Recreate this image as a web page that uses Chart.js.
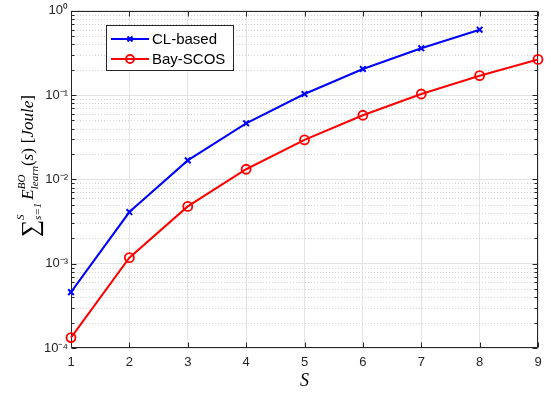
<!DOCTYPE html>
<html>
<head>
<meta charset="UTF-8">
<title>Cumulative learning energy</title>
<script src="https://cdn.jsdelivr.net/npm/chart.js@4.4.0/dist/chart.umd.min.js"></script>
<style>
  html, body { margin: 0; padding: 0; background: #fff; }
</style>
</head>
<body>
<canvas id="chart" width="551" height="395"></canvas>
<script>
// data
var sValues = [1, 2, 3, 4, 5, 6, 7, 8, 9];
var clBased = [4.6e-4, 4.1e-3, 0.0168, 0.0463, 0.103, 0.204, 0.359, 0.597];
var baySCOS = [1.33e-4, 1.18e-3, 4.78e-3, 0.0132, 0.0294, 0.0577, 0.103, 0.170, 0.265];
var seriesNames = ['CL-based', 'Bay-SCOS'];
var yExps = [-4, -3, -2, -1, 0];

var supDigits = {'-': '\u207B', '0': '\u2070', '1': '\u00B9', '2': '\u00B2', '3': '\u00B3', '4': '\u2074'};
var axisColor = '#262626';
var sansFont = 'Liberation Sans, Arial, sans-serif';
var serifFont = 'Liberation Serif, "DejaVu Serif", serif';

var minorValues = [];
for (var k = 0; k < yExps.length - 1; k++) {
  for (var m = 2; m <= 9; m++) minorValues.push(m * Math.pow(10, yExps[k]));
}

function toPoints(ys) {
  return ys.map(function (v, i) { return {x: sValues[i], y: v}; });
}

function drawYLabel(c, cx, cy) {
  var items = [
    {t: '\u2211', s: 24, i: false, dy: 5},
    {sup: 'S', sub: 's=1', s: 11, supDy: -9, subDy: 8},
    {gap: 3},
    {t: 'E', s: 17, i: true, dy: 0},
    {sup: 'BO', sub: 'learn', s: 11, supDy: -8, subDy: 5},
    {t: '(', s: 17, i: false}, {t: 's', s: 17, i: true}, {t: ')', s: 17, i: false},
    {gap: 5},
    {t: '[', s: 17, i: false}, {t: 'Joule', s: 17, i: true}, {t: ']', s: 17, i: false}
  ];
  function font(s, it) { return (it ? 'italic ' : '') + s + 'px ' + serifFont; }
  function w(t, s, it) { c.font = font(s, it); return c.measureText(t).width; }
  var total = 0;
  items.forEach(function (p) {
    if (p.gap) total += p.gap;
    else if (p.sup) total += Math.max(w(p.sup, p.s, true), w(p.sub, p.s, true));
    else total += w(p.t, p.s, p.i);
  });
  c.save();
  c.translate(cx, cy);
  c.rotate(-Math.PI / 2);
  c.fillStyle = '#000';
  c.textBaseline = 'alphabetic';
  c.textAlign = 'left';
  var x = -total / 2, base = 6;
  items.forEach(function (p) {
    if (p.gap) { x += p.gap; return; }
    if (p.sup) {
      c.font = font(p.s, true);
      c.fillText(p.sup, x, base + p.supDy);
      c.fillText(p.sub, x, base + p.subDy);
      x += Math.max(c.measureText(p.sup).width, c.measureText(p.sub).width);
      return;
    }
    c.font = font(p.s, p.i);
    c.fillText(p.t, x, base + (p.dy || 0));
    x += c.measureText(p.t).width;
  });
  c.restore();
}

var matlabFrame = {
  id: 'matlabFrame',
  beforeDatasetsDraw: function (chart) {
    var c = chart.ctx, a = chart.chartArea, xs = chart.scales.x, ys = chart.scales.y;
    c.save();
    // minor dotted grid
    c.strokeStyle = '#d2d2d2';
    c.lineWidth = 1;
    c.setLineDash([1, 2]);
    minorValues.forEach(function (v) {
      var y = Math.round(ys.getPixelForValue(v)) + 0.5;
      c.beginPath(); c.moveTo(a.left, y); c.lineTo(a.right, y); c.stroke();
    });
    c.setLineDash([]);
    // box and inward ticks
    c.strokeStyle = axisColor;
    var L = Math.round(a.left) + 0.5, R = Math.round(a.right) - 0.5;
    var T = Math.round(a.top) + 0.5, B = Math.round(a.bottom) - 0.5;
    c.beginPath();
    c.rect(L, T, R - L, B - T);
    sValues.forEach(function (s) {
      var x = Math.round(xs.getPixelForValue(s)) + 0.5;
      c.moveTo(x, B); c.lineTo(x, B - 5);
      c.moveTo(x, T); c.lineTo(x, T + 5);
    });
    yExps.forEach(function (e) {
      var y = Math.round(ys.getPixelForValue(Math.pow(10, e))) + 0.5;
      c.moveTo(L, y); c.lineTo(L + 5, y);
      c.moveTo(R, y); c.lineTo(R - 5, y);
    });
    minorValues.forEach(function (v) {
      var y = Math.round(ys.getPixelForValue(v)) + 0.5;
      c.moveTo(L, y); c.lineTo(L + 3, y);
      c.moveTo(R, y); c.lineTo(R - 3, y);
    });
    c.stroke();
    c.restore();
  },
  afterDraw: function (chart) {
    var c = chart.ctx;
    // legend box
    c.save();
    c.fillStyle = '#fff';
    c.fillRect(106.5, 25.5, 127, 45);
    c.strokeStyle = axisColor;
    c.lineWidth = 1;
    c.strokeRect(106.5, 25.5, 127, 45);
    var rows = [39, 59];
    chart.data.datasets.forEach(function (ds, i) {
      var y = rows[i];
      c.strokeStyle = ds.borderColor;
      c.lineWidth = 2;
      c.beginPath(); c.moveTo(111, y); c.lineTo(149, y); c.stroke();
      if (ds.pointStyle === 'crossRot') {
        c.beginPath();
        c.moveTo(127.5, y - 2.5); c.lineTo(132.5, y + 2.5);
        c.moveTo(132.5, y - 2.5); c.lineTo(127.5, y + 2.5);
        c.stroke();
      } else {
        c.lineWidth = 1.8;
        c.beginPath(); c.arc(130, y, 4, 0, Math.PI * 2); c.stroke();
      }
      c.fillStyle = '#000';
      c.font = '15px ' + sansFont;
      c.textBaseline = 'middle';
      c.fillText(ds.label, 152, y + 1);
    });
    c.restore();
    drawYLabel(c, 27, 166);
  }
};

var myChart = new Chart(document.getElementById('chart'), {
  type: 'line',
  data: {
    datasets: [
      {
        label: seriesNames[0],
        data: toPoints(clBased),
        borderColor: '#0000ff',
        backgroundColor: '#0000ff',
        borderWidth: 2,
        pointStyle: 'crossRot',
        pointRadius: 4,
        pointBorderWidth: 2,
        pointBorderColor: '#0000ff',
        tension: 0,
        clip: false
      },
      {
        label: seriesNames[1],
        data: toPoints(baySCOS),
        borderColor: '#ff0000',
        backgroundColor: 'rgba(0,0,0,0)',
        borderWidth: 2,
        pointStyle: 'circle',
        pointRadius: 4.5,
        pointBorderWidth: 1.8,
        pointBorderColor: '#ff0000',
        pointBackgroundColor: 'rgba(0,0,0,0)',
        tension: 0,
        clip: false
      }
    ]
  },
  options: {
    responsive: false,
    animation: false,
    layout: {padding: {top: 10, right: 13, left: 0, bottom: 0}},
    plugins: {legend: {display: false}, tooltip: {enabled: false}},
    scales: {
      x: {
        type: 'linear', min: 1, max: 9,
        ticks: {stepSize: 1, color: axisColor, font: {family: sansFont, size: 13}, padding: 7, maxRotation: 0},
        grid: {color: '#e3e3e3', drawTicks: false},
        border: {display: false},
        title: {
          display: true, text: 'S', color: '#000',
          font: {family: serifFont, size: 18, style: 'italic'},
          padding: {top: 0, bottom: 3}
        },
        afterFit: function (s) { s.height = 47; }
      },
      y: {
        type: 'logarithmic', min: 1e-4, max: 1,
        afterBuildTicks: function (s) {
          s.ticks = yExps.map(function (e) { return {value: Math.pow(10, e)}; });
        },
        ticks: {
          color: axisColor, font: {family: sansFont, size: 13}, padding: 3,
          callback: function (v) {
            var e = Math.round(Math.log10(v));
            return '10' + String(e).split('').map(function (ch) { return supDigits[ch]; }).join('');
          }
        },
        grid: {color: '#e3e3e3', drawTicks: false},
        border: {display: false},
        afterFit: function (s) { s.width = 71; }
      }
    }
  },
  plugins: [matlabFrame]
});
</script>
</body>
</html>
